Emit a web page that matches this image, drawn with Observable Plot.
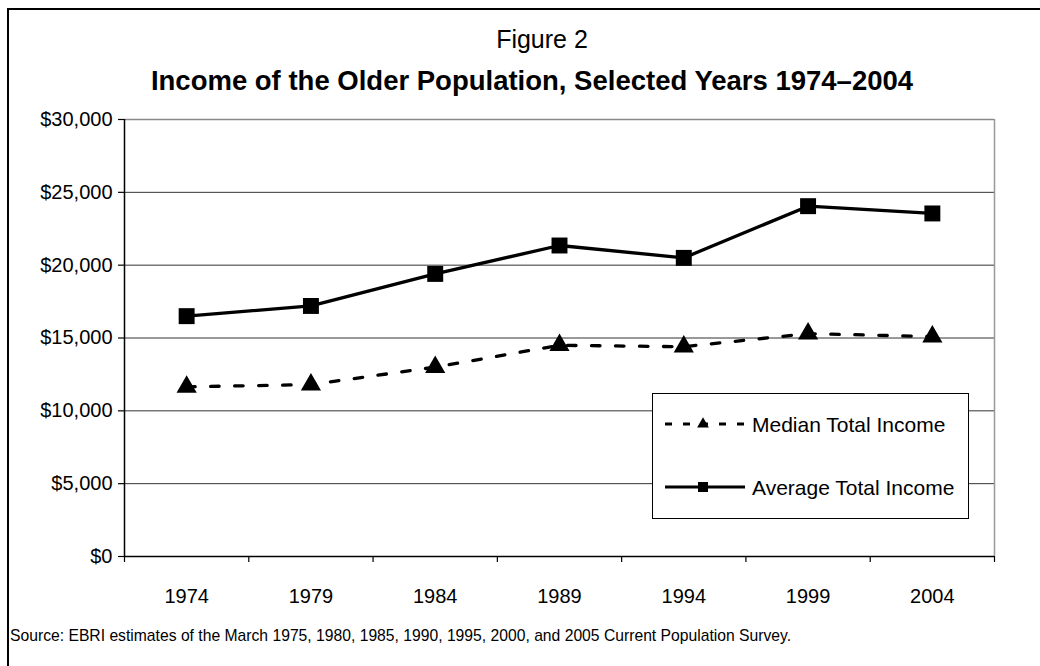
<!DOCTYPE html>
<html><head><meta charset="utf-8">
<script src="https://cdn.jsdelivr.net/npm/d3@7"></script>
<script src="https://cdn.jsdelivr.net/npm/@observablehq/plot@0.6"></script>
<style>
body{margin:0;background:#fff;font-family:"Liberation Sans",Arial,Helvetica,sans-serif;color:#000;}
#wrap{position:relative;width:1040px;height:666px;overflow:hidden;background:#fff;}
#frame{position:absolute;left:7px;top:8px;width:1200px;height:800px;border-left:2px solid #000;border-top:2px solid #000;}
.t{position:absolute;text-align:center;white-space:nowrap;}
#t1{left:0;width:1084px;top:27px;font-size:25px;line-height:25px;}
#t2{left:0;width:1064px;top:67px;font-size:27.5px;line-height:27.5px;font-weight:bold;}
#src{position:absolute;left:10px;top:628px;font-size:15.7px;line-height:16px;white-space:nowrap;}
#chart{position:absolute;left:0;top:0;}
#legend{position:absolute;left:652px;top:393px;}
</style></head>
<body>
<div id="wrap">
  <div id="frame"></div>
  <div id="chart"></div>
  <div class="t" id="t1">Figure 2</div>
  <div class="t" id="t2">Income of the Older Population, Selected Years 1974–2004</div>
  <div id="legend"></div>
  <div id="src">Source: EBRI estimates of the March 1975, 1980, 1985, 1990, 1995, 2000, and 2005 Current Population Survey.</div>
</div>
<script>
const years = [1974, 1979, 1984, 1989, 1994, 1999, 2004];
const medianIncome = [11650, 11800, 13000, 14500, 14400, 15300, 15100];
const averageIncome = [16500, 17200, 19400, 21350, 20500, 24050, 23550];
const yTicks = [0, 5000, 10000, 15000, 20000, 25000, 30000];
const seriesNames = ["Median Total Income", "Average Total Income"];

const medData = years.map((year, i) => ({year, value: medianIncome[i]}));
const avgData = years.map((year, i) => ({year, value: averageIncome[i]}));
const bounds = years.map(y => y - 2.5).concat([years[years.length - 1] + 2.5]);
const x0 = bounds[0], x1 = bounds[bounds.length - 1];

const chart = Plot.plot({
  width: 1040, height: 666,
  marginLeft: 124, marginRight: 46, marginTop: 119, marginBottom: 110,
  style: {fontFamily: "'Liberation Sans', Arial, sans-serif", fontSize: "20px", color: "#000", background: "transparent"},
  x: {domain: [x0, x1]},
  y: {domain: [yTicks[0], yTicks[yTicks.length - 1]]},
  marks: [
    Plot.ruleY(yTicks.slice(1, -1), {stroke: "#333", strokeWidth: 1}),
    Plot.ruleY([yTicks[yTicks.length - 1]], {stroke: "#888", strokeWidth: 1.5}),
    Plot.ruleX([x1], {stroke: "#999", strokeWidth: 1.5}),
    Plot.axisY({ticks: yTicks, tickFormat: d => "$" + d3.format(",")(d), tickSize: 6, tickPadding: 6, label: null, fontSize: 20, strokeWidth: 1.2}),
    Plot.axisX({ticks: bounds, tickFormat: () => "", tickSize: 6, label: null, strokeWidth: 1.2}),
    Plot.axisX({ticks: years, tickFormat: d => String(d), tickSize: 0, tickPadding: 32, label: null, fontSize: 20}),
    Plot.ruleX([x0], {stroke: "#000", strokeWidth: 1.5}),
    Plot.ruleY([yTicks[0]], {stroke: "#000", strokeWidth: 1.5}),
    Plot.line(medData, {x: "year", y: "value", stroke: "#000", strokeWidth: 3.3, strokeDasharray: "8.5,15.5"}),
    Plot.dot(medData, {x: "year", y: "value", symbol: "triangle", r: 7.5, fill: "#000", stroke: null}),
    Plot.line(avgData, {x: "year", y: "value", stroke: "#000", strokeWidth: 3.3}),
    Plot.dot(avgData, {x: "year", y: "value", symbol: "square", r: 9, fill: "#000", stroke: null})
  ]
});
document.getElementById("chart").appendChild(chart);

// legend
const lg = d3.select("#legend").append("svg").attr("width", 318).attr("height", 127);
lg.append("rect").attr("x", 0.5).attr("y", 0.5).attr("width", 316).attr("height", 125)
  .attr("fill", "#fff").attr("stroke", "#000").attr("stroke-width", 1);
const rows = [31, 94];
// median row
lg.append("line").attr("x1", 13).attr("x2", 93).attr("y1", rows[0]).attr("y2", rows[0])
  .attr("stroke", "#000").attr("stroke-width", 3).attr("stroke-dasharray", "7,11");
lg.append("path").attr("d", d3.symbol(d3.symbolTriangle, 60)()).attr("transform", `translate(51,${rows[0]})`).attr("fill", "#000");
// average row
lg.append("line").attr("x1", 13).attr("x2", 93).attr("y1", rows[1]).attr("y2", rows[1])
  .attr("stroke", "#000").attr("stroke-width", 3);
lg.append("rect").attr("x", 46).attr("y", rows[1] - 5).attr("width", 10).attr("height", 10).attr("fill", "#000");
seriesNames.forEach((name, i) => {
  lg.append("text").attr("x", 100).attr("y", rows[i] + 7.5).attr("font-size", 21)
    .attr("font-family", "'Liberation Sans', Arial, sans-serif").attr("fill", "#000").text(name);
});
</script>
</body></html>
